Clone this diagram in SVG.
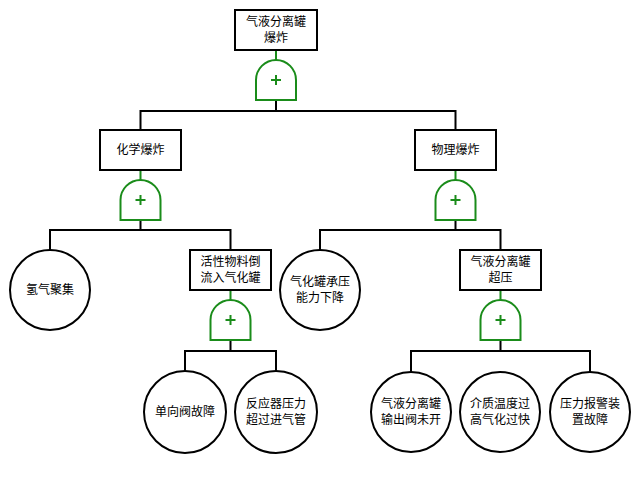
<svg xmlns="http://www.w3.org/2000/svg" width="640" height="480" viewBox="0 0 640 480">
<defs>
<style>
.box{fill:#fff;stroke:#000;stroke-width:2}
.circ{fill:#fff;stroke:#000;stroke-width:2}
.gate{fill:#fff;stroke:#1a8c1a;stroke-width:2}
.plus{stroke:#1a8c1a;stroke-width:2;fill:none}
.wire{stroke:#000;stroke-width:2;fill:none}
.gwire{stroke:#1a8c1a;stroke-width:2;fill:none}
text{font-family:"Noto Sans CJK SC","Noto Sans",sans-serif;font-size:12px;fill:#000;text-anchor:middle}
</style>
<path id="g" d="M-20,40 V20 A20,20 0 0 1 20,20 V40 Z"/>
</defs>
<rect width="640" height="480" fill="#fff"/>
<g id="connectors">
<path class="gwire" d="M276,50V60 M140.5,170V180 M455.5,170V180 M230.5,290V300 M500.5,290V300"/>
<path class="wire" d="M276,100V111 M140.5,130V111H455.5V130"/>
<path class="wire" d="M140.5,220V230 M50,250V230H230.5V250"/>
<path class="wire" d="M455.5,220V230 M320,250V230H500.5V250"/>
<path class="wire" d="M230.5,340V351 M185,371V351H276V371"/>
<path class="wire" d="M500.5,340V351 M411,372V351H590V372"/>
</g>
<g id="n_top">
<rect class="box" x="235" y="10" width="82" height="40"/>
<text x="276" y="26">气液分离罐</text>
<text x="276" y="42">爆炸</text>
</g>
<g id="gate_top"><use href="#g" class="gate" x="276" y="60"/><path class="plus" d="M271,80h10M276,75v10"/></g>
<g id="n_chem">
<rect class="box" x="100" y="130" width="81" height="40"/>
<text x="140.5" y="154">化学爆炸</text>
</g>
<g id="gate_chem"><use href="#g" class="gate" x="140.5" y="180"/><path class="plus" d="M135.5,200h10M140.5,195v10"/></g>
<g id="n_phys">
<rect class="box" x="415" y="130" width="81" height="40"/>
<text x="455.5" y="154">物理爆炸</text>
</g>
<g id="gate_phys"><use href="#g" class="gate" x="455.5" y="180"/><path class="plus" d="M450.5,200h10M455.5,195v10"/></g>
<g id="n_h2">
<circle class="circ" cx="50" cy="290" r="40"/>
<text x="50" y="294">氢气聚集</text>
</g>
<g id="n_backflow">
<rect class="box" x="190" y="250" width="81" height="40"/>
<text x="230.5" y="266">活性物料倒</text>
<text x="230.5" y="282">流入气化罐</text>
</g>
<g id="gate_backflow"><use href="#g" class="gate" x="230.5" y="300"/><path class="plus" d="M225.5,320h10M230.5,315v10"/></g>
<g id="n_capacity">
<circle class="circ" cx="320" cy="290" r="40"/>
<text x="320" y="286">气化罐承压</text>
<text x="320" y="302">能力下降</text>
</g>
<g id="n_over">
<rect class="box" x="460" y="250" width="81" height="40"/>
<text x="500.5" y="266">气液分离罐</text>
<text x="500.5" y="282">超压</text>
</g>
<g id="gate_over"><use href="#g" class="gate" x="500.5" y="300"/><path class="plus" d="M495.5,320h10M500.5,315v10"/></g>
<g id="n_valve">
<circle class="circ" cx="185" cy="412" r="41"/>
<text x="185" y="416">单向阀故障</text>
</g>
<g id="n_reactor">
<circle class="circ" cx="276" cy="412" r="41"/>
<text x="276" y="408">反应器压力</text>
<text x="276" y="424">超过进气管</text>
</g>
<g id="n_outlet">
<circle class="circ" cx="411" cy="412" r="40"/>
<text x="411" y="408">气液分离罐</text>
<text x="411" y="424">输出阀未开</text>
</g>
<g id="n_temp">
<circle class="circ" cx="500" cy="412" r="40"/>
<text x="500" y="408">介质温度过</text>
<text x="500" y="424">高气化过快</text>
</g>
<g id="n_alarm">
<circle class="circ" cx="590" cy="412" r="40"/>
<text x="590" y="408">压力报警装</text>
<text x="590" y="424">置故障</text>
</g>
</svg>
